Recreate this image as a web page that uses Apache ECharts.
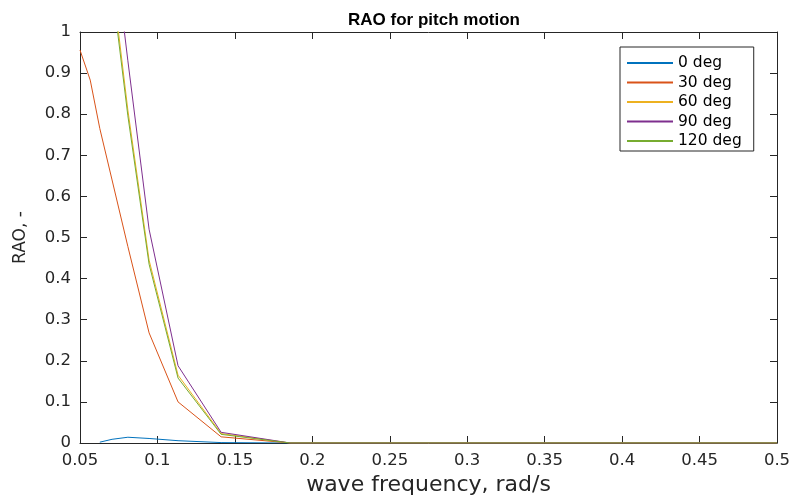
<!DOCTYPE html>
<html>
<head>
<meta charset="utf-8">
<script src="https://cdn.jsdelivr.net/npm/echarts@6/dist/echarts.min.js"></script>
<style>html,body{margin:0;padding:0;background:#fff;}#c{width:790px;height:498px;}</style>
</head>
<body>
<div id="c"></div>
<script>
var freq = [0.05, 0.0566, 0.0628, 0.0707, 0.0809, 0.0946, 0.1133, 0.1411, 0.1857, 0.25, 0.3, 0.35, 0.4, 0.45, 0.5];
var seriesNames = ['0 deg', '30 deg', '60 deg', '90 deg', '120 deg'];
var rao0   = [null, null, 0.002, 0.009, 0.014, 0.011, 0.0056, 0.001, 0, 0, 0, 0, 0, 0, 0];
var rao30  = [0.956, 0.883, 0.765, 0.64, 0.478, 0.268, 0.10, 0.015, 0, 0, 0, 0, 0, 0, 0];
var rao60  = [1.7, 1.55, 1.35, 1.13, 0.81, 0.445, 0.165, 0.023, 0, 0, 0, 0, 0, 0, 0];
var rao90  = [1.9, 1.75, 1.5, 1.25, 0.93, 0.52, 0.188, 0.026, 0, 0, 0, 0, 0, 0, 0];
var rao120 = [1.68, 1.53, 1.33, 1.11, 0.796, 0.435, 0.158, 0.021, 0, 0, 0, 0, 0, 0, 0];

var colors = ['#0072BD', '#D95319', '#EDB120', '#7E2F8E', '#77AC30'];
var allData = [rao0, rao30, rao60, rao90, rao120];
var tickFont = 'DejaVu Sans, Verdana, sans-serif';
var titleFont = 'Liberation Sans, Arial, Helvetica, sans-serif';
var axisCol = '#262626';

function pairs(ys) { return freq.map(function (x, i) { return [x, ys[i]]; }); }

var series = allData.map(function (d, i) {
  return {
    name: seriesNames[i], type: 'line', data: pairs(d), symbol: 'none',
    lineStyle: { width: 1, color: colors[i] }, itemStyle: { color: colors[i] },
    clip: true, connectNulls: false, animation: false
  };
});

function xAx(pos, show) {
  return {
    type: 'value', position: pos, min: 0.05, max: 0.5, interval: 0.05,
    axisLine: { show: true, onZero: false, lineStyle: { color: axisCol, width: 1 } },
    axisTick: { show: true, inside: true, length: 7, lineStyle: { color: axisCol } },
    axisLabel: { show: show, color: axisCol, fontFamily: tickFont, fontSize: 16.5, margin: 9,
      formatter: function (v) { return String(+v.toFixed(2)); } },
    splitLine: { show: false },
    name: show ? 'wave frequency, rad/s' : '', nameLocation: 'middle', nameGap: 29,
    nameTextStyle: { color: axisCol, fontFamily: tickFont, fontSize: 22 }
  };
}
function yAx(pos, show) {
  return {
    type: 'value', position: pos, min: 0, max: 1, interval: 0.1,
    axisLine: { show: true, onZero: false, lineStyle: { color: axisCol, width: 1 } },
    axisTick: { show: true, inside: true, length: 7, lineStyle: { color: axisCol } },
    axisLabel: { show: show, color: axisCol, fontFamily: tickFont, fontSize: 16.5, margin: 9,
      formatter: function (v) { return String(+v.toFixed(1)); } },
    splitLine: { show: false },
    name: show ? 'RAO, -' : '', nameLocation: 'middle', nameGap: 51,
    nameTextStyle: { color: axisCol, fontFamily: tickFont, fontSize: 17 }
  };
}

var chart = echarts.init(document.getElementById('c'), null, { renderer: 'canvas' });
chart.setOption({
  animation: false,
  backgroundColor: '#fff',
  title: { text: 'RAO for pitch motion', left: 429, top: 7, textAlign: 'center',
    textStyle: { fontFamily: titleFont, fontSize: 17, fontWeight: 'bold', color: '#000' } },
  grid: { left: 80, right: 13, top: 32, bottom: 55, containLabel: false, outerBoundsMode: 'none' },
  xAxis: [xAx('bottom', true), xAx('top', false)],
  yAxis: [yAx('left', true), yAx('right', false)],
  legend: {
    orient: 'vertical', left: 620, top: 47, data: seriesNames,
    itemWidth: 46, itemHeight: 14, itemGap: 3.5,
    padding: [8, 12, 2, 6],
    itemStyle: { opacity: 0 },
    borderColor: axisCol, borderWidth: 1, backgroundColor: '#fff',
    textStyle: { fontFamily: tickFont, fontSize: 15.5, color: '#000' }
  },
  series: series
});
</script>
</body>
</html>
